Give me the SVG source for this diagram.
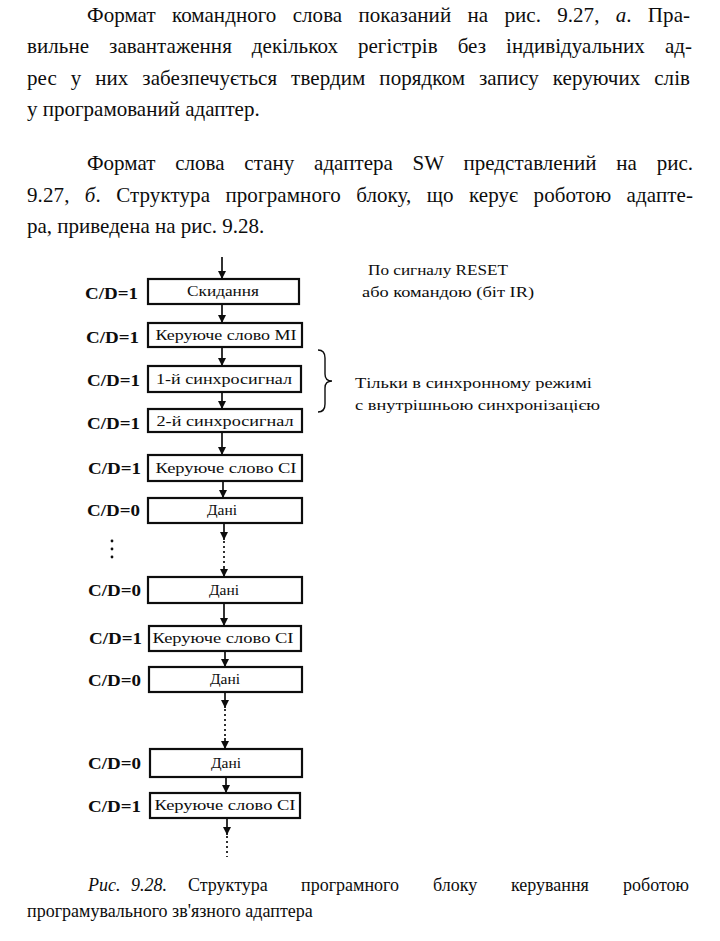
<svg xmlns="http://www.w3.org/2000/svg" width="720" height="941" viewBox="0 0 720 941">
<style>
  .body { font-family: "Liberation Serif", "Times New Roman", serif; font-size: 21px; fill: #0d0d0d; }
  .cap { font-family: "Liberation Serif", "Times New Roman", serif; font-size: 18px; fill: #0d0d0d; }
  .it { font-style: italic; }
  .lbl { font-family: "Liberation Serif", "Times New Roman", serif; font-size: 17px; font-weight: bold; fill: #0d0d0d; }
  .bt { font-family: "Liberation Serif", "Times New Roman", serif; font-size: 15.5px; fill: #0d0d0d; text-anchor: middle; }
  .note { font-family: "Liberation Serif", "Times New Roman", serif; font-size: 15px; fill: #0d0d0d; }
  .box rect { fill: #fff; stroke: #0d0d0d; stroke-width: 2.2; }
  #connectors line { stroke: #0d0d0d; stroke-width: 1.7; }
  #connectors .dot { stroke-dasharray: 2 3; }
  .brace { fill: none; stroke: #0d0d0d; stroke-width: 1.4; }
</style>
<defs>
  <marker id="ah" markerUnits="userSpaceOnUse" markerWidth="8" markerHeight="9" refX="8" refY="4" orient="auto">
    <path d="M0,0 L8,4 L0,8 z" fill="#0d0d0d"/>
  </marker>
</defs>
<rect width="720" height="941" fill="#fff"/>

<!-- body text -->
<g id="body-text">
  <text class="body" x="87" y="22" word-spacing="11" textLength="603" lengthAdjust="spacing">Формат командного слова показаний на рис. 9.27, <tspan class="it">а</tspan>. Пра-</text>
  <text class="body" x="27" y="53" word-spacing="14.7" textLength="665" lengthAdjust="spacing">вильне завантаження декількох регістрів без індивідуальних ад-</text>
  <text class="body" x="27" y="85" word-spacing="8.5" textLength="663" lengthAdjust="spacing">рес у них забезпечується твердим порядком запису керуючих слів</text>
  <text class="body" x="27" y="116">у програмований адаптер.</text>
  <text class="body" x="87" y="170" word-spacing="14.5" textLength="606" lengthAdjust="spacing">Формат слова стану адаптера SW представлений на рис.</text>
  <text class="body" x="27" y="202" word-spacing="10" textLength="666" lengthAdjust="spacing">9.27, <tspan class="it">б</tspan>. Структура програмного блоку, що керує роботою адапте-</text>
  <text class="body" x="27" y="233">ра, приведена на рис. 9.28.</text>
</g>

<!-- connectors -->
<g id="connectors">
  <line x1="222" y1="257" x2="222" y2="279" marker-end="url(#ah)"/>
  <line x1="222" y1="304" x2="222" y2="323" marker-end="url(#ah)"/>
  <line x1="222" y1="347" x2="222" y2="366" marker-end="url(#ah)"/>
  <line x1="222" y1="392" x2="222" y2="409" marker-end="url(#ah)"/>
  <line x1="222" y1="432" x2="222" y2="455" marker-end="url(#ah)"/>
  <line x1="223" y1="481" x2="223" y2="498" marker-end="url(#ah)"/>
  <line x1="224" y1="523" x2="224" y2="540" marker-end="url(#ah)"/>
  <line class="dot" x1="224" y1="541" x2="224" y2="566"/>
  <line x1="224" y1="566" x2="224" y2="577" marker-end="url(#ah)"/>
  <line x1="224" y1="603" x2="224" y2="626" marker-end="url(#ah)"/>
  <line x1="225" y1="651" x2="225" y2="667" marker-end="url(#ah)"/>
  <line x1="225" y1="692" x2="225" y2="708" marker-end="url(#ah)"/>
  <line class="dot" x1="225" y1="709" x2="225" y2="738"/>
  <line x1="225" y1="738" x2="225" y2="749" marker-end="url(#ah)"/>
  <line x1="226" y1="777" x2="226" y2="793" marker-end="url(#ah)"/>
  <line x1="227" y1="818" x2="227" y2="835" marker-end="url(#ah)"/>
  <line class="dot" x1="227" y1="836" x2="227" y2="857"/>
</g>

<!-- nodes -->
<g id="n-reset" class="box">
  <rect x="148" y="279" width="151" height="25"/>
  <text class="bt" x="223" y="296" textLength="72" lengthAdjust="spacingAndGlyphs">Скидання</text>
  <text class="lbl" x="85" y="299" textLength="53" lengthAdjust="spacingAndGlyphs">C/D=1</text>
</g>
<g id="n-mi" class="box">
  <rect x="148" y="323" width="154" height="24"/>
  <text class="bt" x="226" y="340" textLength="141" lengthAdjust="spacingAndGlyphs">Керуюче слово MI</text>
  <text class="lbl" x="86" y="343" textLength="53" lengthAdjust="spacingAndGlyphs">C/D=1</text>
</g>
<g id="n-sync1" class="box">
  <rect x="148" y="366" width="153" height="26"/>
  <text class="bt" x="224" y="384" textLength="136" lengthAdjust="spacingAndGlyphs">1-й синхросигнал</text>
  <text class="lbl" x="87" y="386" textLength="53" lengthAdjust="spacingAndGlyphs">C/D=1</text>
</g>
<g id="n-sync2" class="box">
  <rect x="148" y="409" width="154" height="23"/>
  <text class="bt" x="225" y="426" textLength="137" lengthAdjust="spacingAndGlyphs">2-й синхросигнал</text>
  <text class="lbl" x="87" y="429" textLength="53" lengthAdjust="spacingAndGlyphs">C/D=1</text>
</g>
<g id="n-ci1" class="box">
  <rect x="148" y="455" width="154" height="26"/>
  <text class="bt" x="226" y="473" textLength="141" lengthAdjust="spacingAndGlyphs">Керуюче слово CI</text>
  <text class="lbl" x="88" y="474" textLength="53" lengthAdjust="spacingAndGlyphs">C/D=1</text>
</g>
<g id="n-data1" class="box">
  <rect x="148" y="498" width="154" height="25"/>
  <text class="bt" x="222" y="515">Дані</text>
  <text class="lbl" x="87" y="516" textLength="53" lengthAdjust="spacingAndGlyphs">C/D=0</text>
</g>
<g id="n-vdots">
  <circle cx="112" cy="541" r="1.4" fill="#0d0d0d"/>
  <circle cx="112" cy="549" r="1.4" fill="#0d0d0d"/>
  <circle cx="112" cy="557" r="1.4" fill="#0d0d0d"/>
</g>
<g id="n-data2" class="box">
  <rect x="148" y="577" width="154" height="26"/>
  <text class="bt" x="224" y="595">Дані</text>
  <text class="lbl" x="88" y="596" textLength="53" lengthAdjust="spacingAndGlyphs">C/D=0</text>
</g>
<g id="n-ci2" class="box">
  <rect x="149" y="626" width="152" height="25"/>
  <text class="bt" x="223" y="643" textLength="141" lengthAdjust="spacingAndGlyphs">Керуюче слово CI</text>
  <text class="lbl" x="89" y="644" textLength="53" lengthAdjust="spacingAndGlyphs">C/D=1</text>
</g>
<g id="n-data3" class="box">
  <rect x="149" y="667" width="153" height="25"/>
  <text class="bt" x="225" y="684">Дані</text>
  <text class="lbl" x="88" y="686" textLength="53" lengthAdjust="spacingAndGlyphs">C/D=0</text>
</g>
<g id="n-data4" class="box">
  <rect x="150" y="749" width="152" height="28"/>
  <text class="bt" x="226" y="768">Дані</text>
  <text class="lbl" x="88" y="769" textLength="53" lengthAdjust="spacingAndGlyphs">C/D=0</text>
</g>
<g id="n-ci3" class="box">
  <rect x="150" y="793" width="150" height="25"/>
  <text class="bt" x="225" y="810" textLength="141" lengthAdjust="spacingAndGlyphs">Керуюче слово CI</text>
  <text class="lbl" x="88" y="812" textLength="53" lengthAdjust="spacingAndGlyphs">C/D=1</text>
</g>

<!-- annotations -->
<g id="note-reset">
  <text class="note" x="368" y="275" textLength="140" lengthAdjust="spacingAndGlyphs">По сигналу RESET</text>
  <text class="note" x="362" y="297" textLength="172" lengthAdjust="spacingAndGlyphs">або командою (біт IR)</text>
</g>
<g id="note-sync">
  <path class="brace" d="M318,350 Q325,350 325,358 L325,374 Q325,381 332,381 Q325,381 325,388 L325,404 Q325,412 318,412"/>
  <text class="note" x="355" y="388" textLength="237" lengthAdjust="spacingAndGlyphs">Тільки в синхронному режимі</text>
  <text class="note" x="355" y="410" textLength="245" lengthAdjust="spacingAndGlyphs">с внутрішньою синхронізацією</text>
</g>

<!-- caption -->
<g id="caption">
  <text class="cap" x="88" y="891"><tspan class="it">Рис.</tspan><tspan class="it" x="131">9.28.</tspan><tspan x="188">Структура</tspan><tspan x="301">програмного</tspan><tspan x="433">блоку</tspan><tspan x="511">керування</tspan><tspan x="623">роботою</tspan></text>
  <text class="cap" x="27" y="917">програмувального зв'язного адаптера</text>
</g>
</svg>
